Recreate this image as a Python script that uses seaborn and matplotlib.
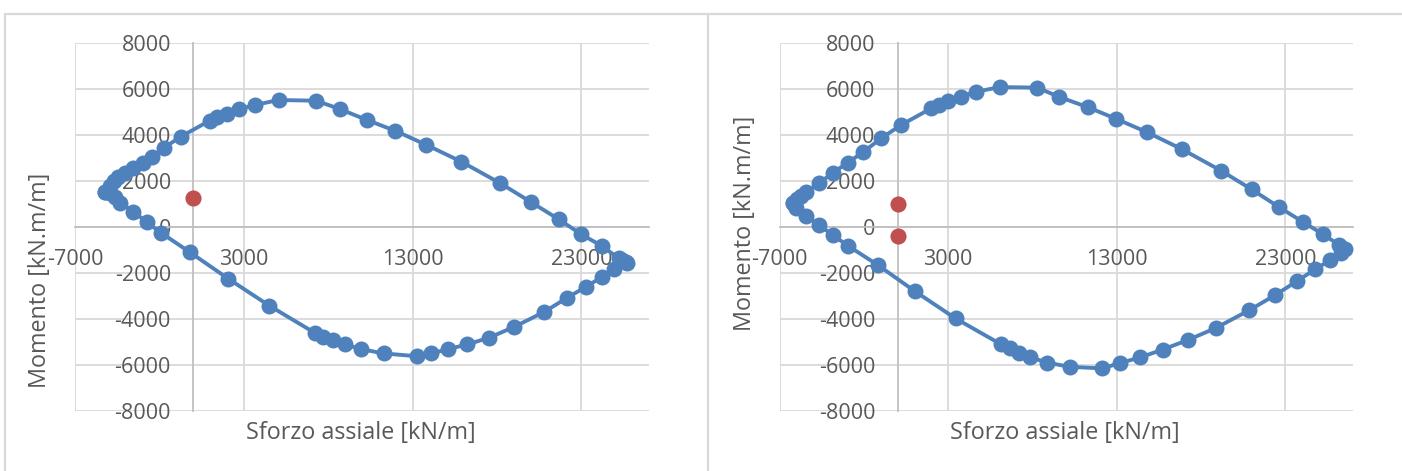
import matplotlib
matplotlib.use("Agg")
import matplotlib.pyplot as plt
from matplotlib.lines import Line2D
import seaborn as sns

# dominio di interazione N-M, sezione 1 (kN/m, kN.m/m)
n1 = [-5200, -4920, -4680, -4430, -4030, -3580, -2980, -2410, -1720, -730,
      970, 1440, 2000, 2710, 3690, 5060, 7290, 8710, 10300, 11980,
      13810, 15890, 18200, 20020, 21650, 23000, 24230, 25210, 25430, 25610,
      25670, 24920, 24230, 23280, 22150, 20810, 19030, 17550, 16230, 15100,
      14110, 13260, 11280, 9940, 9010, 8260, 7690, 7190, 4520, 2090,
      -180, -1900, -2750, -3540, -4330, -4620, -4920, -5200]
m1 = [1530, 1770, 1990, 2180, 2330, 2540, 2760, 3050, 3440, 3920,
      4610, 4760, 4900, 5110, 5300, 5510, 5480, 5110, 4640, 4170,
      3560, 2830, 1890, 1070, 330, -330, -840, -1370, -1450, -1520,
      -1570, -1850, -2170, -2600, -3080, -3690, -4340, -4810, -5110, -5310,
      -5500, -5620, -5500, -5310, -5110, -4920, -4780, -4600, -3430, -2260,
      -1110, -260, 200, 660, 1050, 1310, 1470, 1530]

# sezione 2
n2 = [-6220, -5990, -5750, -5410, -4670, -3840, -2950, -2060, -970, 220,
      2000, 2450, 2980, 3740, 4670, 6050, 8280, 9600, 11280, 12970,
      14800, 16850, 19190, 21000, 22600, 24030, 25210, 26200, 26560,
      26300, 25670, 24760, 23690, 22390, 20870, 18890, 17210, 15730, 14410,
      13220, 12140, 10200, 8890, 7880, 7190, 6640, 6150, 3440, 1010,
      -1170, -2950, -3840, -4670, -5410, -6000, -6220]
m2 = [1020, 1210, 1340, 1530, 1890, 2350, 2790, 3240, 3850, 4430,
      5150, 5300, 5480, 5660, 5870, 6070, 6050, 5640, 5200, 4690,
      4110, 3380, 2440, 1630, 870, 220, -310, -790, -980,
      -1150, -1440, -1850, -2360, -2970, -3620, -4390, -4920, -5330, -5670,
      -5910, -6150, -6080, -5900, -5670, -5470, -5280, -5110, -3980, -2790,
      -1660, -820, -360, 80, 470, 800, 1020]

# sollecitazioni di progetto
n_sd1 = [0]
m_sd1 = [1260]
n_sd2 = [0, 0]
m_sd2 = [980, -400]

x_ticks = [-7000, 3000, 13000, 23000]
y_ticks = [-8000, -6000, -4000, -2000, 0, 2000, 4000, 6000, 8000]

BLUE = "#4F81BD"
RED = "#C0504D"
TXT = "#595959"
W, H = 1402, 471

sns.set_style("white")
plt.rcParams["font.family"] = ["Open Sans", "DejaVu Sans"]
plt.rcParams["axes.unicode_minus"] = False

fig = plt.figure(figsize=(W / 100, H / 100), dpi=100)

# bordi dei due grafici
for xs, ys in [([5, W], [14, 14]), ([5, 5], [14, H]), ([708, 708], [14, H])]:
    fig.add_artist(Line2D([x / W for x in xs], [1 - y / H for y in ys],
                          color="#d9d9d9", lw=1.6))


def draw(left, right, n, m, n_sd, m_sd, ylab_y, xlab_x):
    top, bottom = 42.7, 411
    ax = fig.add_axes([left / W, 1 - bottom / H, (right - left) / W, (bottom - top) / H])
    sns.lineplot(x=n, y=m, sort=False, estimator=None, color=BLUE, lw=2.8,
                 marker="o", markersize=11.5, markeredgewidth=0, ax=ax, zorder=4)
    sns.scatterplot(x=n_sd, y=m_sd, color=RED, s=135, linewidth=0, ax=ax, zorder=5)
    ax.set_xlim(-7000, 27000)
    ax.set_ylim(-8000, 8000)
    ax.set_xticks(x_ticks)
    ax.set_yticks(y_ticks)
    ax.grid(True, color="#d9d9d9", lw=1.3)
    ax.set_axisbelow(True)
    for s in ["top", "right"]:
        ax.spines[s].set_visible(False)
    ax.spines["left"].set_position(("data", 0))
    ax.spines["bottom"].set_position(("data", 0))
    for s in ["left", "bottom"]:
        ax.spines[s].set_color("#bfbfbf")
        ax.spines[s].set_linewidth(1.3)
        ax.spines[s].set_zorder(2)
    ax.tick_params(length=0, labelsize=15.5, labelcolor=TXT)
    ax.tick_params(axis="x", pad=16)
    ax.tick_params(axis="y", pad=16)
    ax.set_xlabel("")
    ax.set_ylabel("")
    fig.text(xlab_x / W, 1 - 433 / H, "Sforzo assiale [kN/m]", ha="center",
             va="center", fontsize=16.8, color=TXT)
    fig.text((left - 35) / W, 1 - ylab_y / H, "Momento [kN.m/m]", ha="center",
             va="center", rotation=90, fontsize=16.8, color=TXT)
    return ax


draw(75, 649, n1, m1, n_sd1, m_sd1, 280, 361)
draw(779.6, 1352.7, n2, m2, n_sd2, m_sd2, 223, 1065)

fig.savefig("out.png", dpi=100, facecolor="white")
